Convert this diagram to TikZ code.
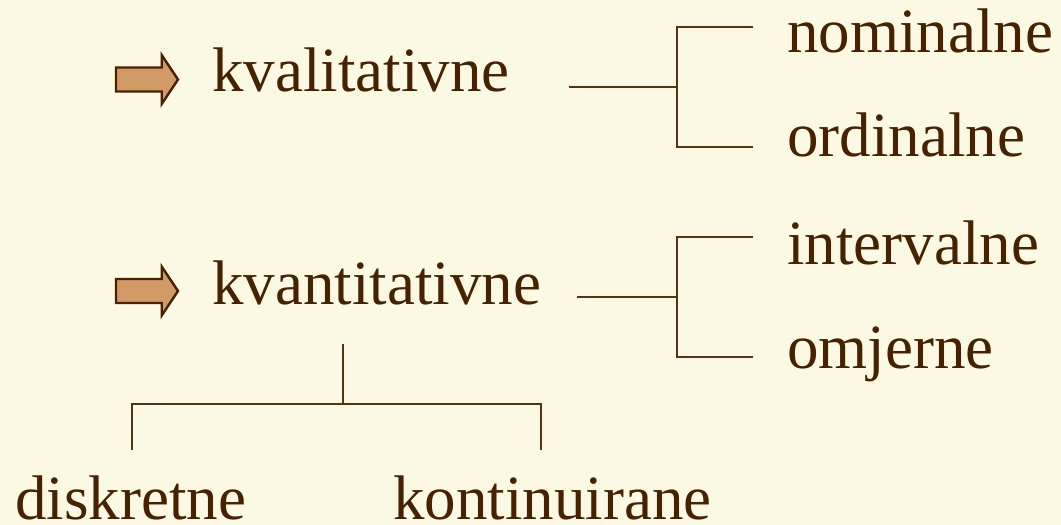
\documentclass[tikz,border=0pt]{standalone}
\usepackage{fontspec}
\setmainfont{Liberation Serif}
\definecolor{paper}{RGB}{251,249,227}
\definecolor{ink}{RGB}{70,34,2}
\definecolor{rule}{RGB}{84,52,20}
\definecolor{arrowfill}{RGB}{209,154,102}
\tikzset{
  lbl/.style={inner sep=0pt, anchor=base west, text=ink, font=\fontsize{63}{63}\selectfont},
  conn/.style={draw=rule, line width=2pt, line cap=rect},
  bullet/.style={draw=ink, line width=2.4pt, fill=arrowfill, line join=miter},
  pics/bulletarrow/.style={code={
    \path[bullet] (0,-12) -- (45.7,-12) -- (45.7,-24.5) -- (62,0)
      -- (45.7,24.5) -- (45.7,12) -- (0,12) -- cycle;
  }}
}
\begin{document}
\begin{tikzpicture}[x=1pt,y=-1pt]
  \fill[paper] (0,0) rectangle (1061,525);
  \useasboundingbox (0,0) rectangle (1061,525);

  % bullet arrows in front of the two main classes
  \pic at (116,79.5) {bulletarrow};
  \pic at (116,291) {bulletarrow};

  % labels
  \node[lbl] (kval) at (212,91.7) {kvalitativne};
  \node[lbl] (kvant) at (212,304.3) {kvantitativne};
  \node[lbl] (nom) at (787,52.7) {nominalne};
  \node[lbl] (ord) at (787,156.7) {ordinalne};
  \node[lbl] (int) at (787,264.3) {intervalne};
  \node[lbl] (omj) at (787,368.3) {omjerne};
  \node[lbl] (disk) at (15,519.5) {diskretne};
  \node[lbl] (kont) at (393,519.5) {kontinuirane};

  % bracket joints
  \coordinate (qlStart) at (570,87);
  \coordinate (qlFork)  at (676.5,87);
  \coordinate (nomEnd)  at (751.5,27);
  \coordinate (ordEnd)  at (751.5,147.3);
  \coordinate (qnStart) at (578,297);
  \coordinate (qnFork)  at (676.5,297);
  \coordinate (intEnd)  at (751.5,237);
  \coordinate (omjEnd)  at (751.5,357.3);
  \coordinate (stemTop) at (343,345);
  \coordinate (stemBot) at (343,404);
  \coordinate (diskEnd) at (132,449);
  \coordinate (kontEnd) at (540.5,449);

  % kvalitativne -> nominalne / ordinalne
  \draw[conn] (qlStart) -- (qlFork);
  \draw[conn] (nomEnd) -| (qlFork) |- (ordEnd);

  % kvantitativne -> intervalne / omjerne
  \draw[conn] (qnStart) -- (qnFork);
  \draw[conn] (intEnd) -| (qnFork) |- (omjEnd);

  % kvantitativne -> diskretne / kontinuirane
  \draw[conn] (stemTop) -- (stemBot);
  \draw[conn] (diskEnd) |- (stemBot) -| (kontEnd);
\end{tikzpicture}
\end{document}
